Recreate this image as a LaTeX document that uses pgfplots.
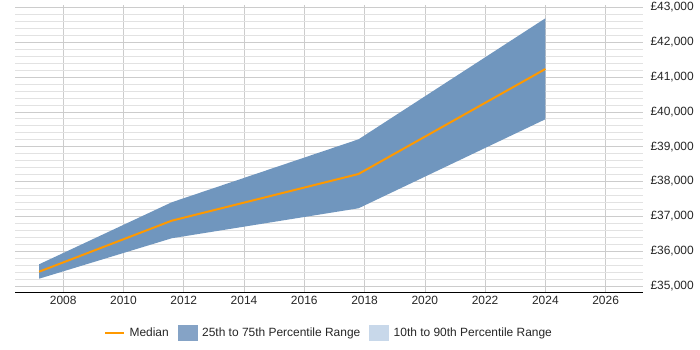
\documentclass[border=0pt]{standalone}
\usepackage{fontspec}
\setmainfont{Liberation Sans}
\usepackage{pgfplots}
\pgfplotsset{compat=1.18}

\definecolor{bandmid}{RGB}{112,150,190}
\definecolor{bandmidkey}{RGB}{133,163,198}
\definecolor{bandwide}{RGB}{200,216,234}
\definecolor{mediancol}{RGB}{255,153,0}
\definecolor{gridmajor}{RGB}{204,204,204}
\definecolor{gridminor}{RGB}{226,226,226}

% median salary by year
\pgfplotstableread{
year    median
2007.2  35411
2011.6  36875
2017.8  38216
2024.0  41229
}\mediandata

% 25th-75th percentile band: 75th going forward, 25th coming back
\pgfplotstableread{
year    value
2007.2  35623
2011.6  37403
2017.8  39211
2024.0  42684
2024.0  39786
2017.8  37231
2011.6  36370
2007.2  35210
}\banddata

\begin{document}
\begin{tikzpicture}
\path[use as bounding box] (0,0) rectangle (700bp,350bp);
\begin{axis}[
  at={(15bp,58bp)}, anchor=south west,
  scale only axis,
  width=628bp, height=287bp,
  xmin=2006.4, xmax=2027.24,
  ymin=34828, ymax=43066,
  axis x line*=bottom,
  axis y line*=right,
  y axis line style={draw=none},
  x axis line style={black, line width=0.8pt},
  xtick={2008,2010,...,2026},
  ytick={35000,36000,...,43000},
  scaled y ticks=false,
  minor y tick num=4,
  major tick length=0pt, minor tick length=0pt,
  xmajorgrids, ymajorgrids, yminorgrids,
  major grid style={gridmajor, line width=0.6pt},
  minor grid style={gridminor, line width=0.6pt},
  tick label style={font=\fontsize{12}{14}\selectfont, text=black!85},
  /pgf/number format/assume math mode=true,
  xticklabel={\pgfmathprintnumber[1000 sep={}]{\tick}},
  yticklabel={£\pgfmathprintnumber[1000 sep={,}]{\tick}},
  yticklabel style={anchor=west, xshift=4bp},
  xticklabel style={yshift=-1bp},
  legend columns=3,
  legend style={at={(0.5,-0.1429)}, anchor=center, draw=none, fill=none,
    font=\fontsize{12}{14}\selectfont, text=black!85,
    /tikz/every even column/.append style={column sep=7bp},
    /tikz/every odd column/.append style={column sep=0bp}},
  legend cell align=left,
]
\addlegendimage{legend image code/.code={\draw[mediancol, line width=2.5pt] (0bp,0bp) -- (19bp,0bp); \path (22bp,0bp);}}
\addlegendentry{Median}
\addlegendimage{legend image code/.code={\fill[bandmidkey] (0bp,-7.5bp) rectangle (19bp,7.5bp); \path (22bp,0bp);}}
\addlegendentry{25th to 75th Percentile Range}
\addlegendimage{legend image code/.code={\fill[bandwide] (0bp,-7.5bp) rectangle (19bp,7.5bp); \path (22bp,0bp);}}
\addlegendentry{10th to 90th Percentile Range}

\addplot[fill=bandmid, draw=none, forget plot] table[x=year, y=value] {\banddata} -- cycle;
\addplot[mediancol, line width=2pt, forget plot] table[x=year, y=median] {\mediandata};
\end{axis}
\end{tikzpicture}
\end{document}
